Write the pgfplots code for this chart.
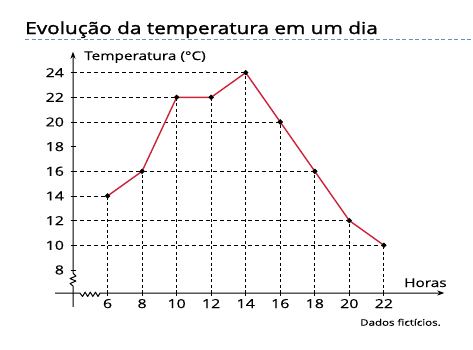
\documentclass[border=0pt]{standalone}
\usepackage{fontspec}
\setmainfont{Open Sans}[FakeStretch=1.28, FakeBold=0.4]
\newfontfamily\titlefont{Open Sans}[FakeStretch=1.26, FakeBold=1.6]
\usepackage{pgfplots}
\pgfplotsset{compat=1.18}
\usetikzlibrary{arrows.meta}
\definecolor{redline}{RGB}{204,36,56}
\definecolor{titleblue}{RGB}{95,145,200}

\begin{document}
\begin{tikzpicture}[x=1pt,y=1pt]
\path[use as bounding box, fill=white] (0,0) rectangle (473,349);
\node[anchor=base west, inner sep=0, font=\titlefont\fontsize{16.5}{19}\selectfont] at (25,315) {Evolução da temperatura em um dia};
\draw[titleblue, line width=1pt, dash pattern=on 4pt off 2.5pt] (25,310) -- (473,310);
\node[anchor=base west, inner sep=0, font=\fontsize{12}{14}\selectfont] at (84,289) {Temperatura (°C)};
\node[anchor=base west, inner sep=0, font=\fontsize{12}{14}\selectfont] at (404,62) {Horas};
\node[anchor=base west, inner sep=0, font=\fontsize{9}{11}\selectfont] at (360,23.3) {Dados fictícios.};

\begin{axis}[
  at={(73pt,56pt)}, anchor=south west,
  x=17.27pt, y=12.33pt,
  xmin=4, xmax=25.5, ymin=6.13, ymax=25.7,
  axis lines=left, axis line style={draw=none},
  xtick={6,8,...,22}, ytick={8,10,...,24},
  tick align=center, major tick length=5pt,
  tick style={black, line width=0.8pt},
  ticklabel style={font=\fontsize{12.5}{14}\selectfont},
  yticklabel style={xshift=-3pt},
  /pgf/number format/assume math mode=true,
  clip mode=individual,
]
\addplot[xcomb, black, dash pattern=on 4pt off 3pt, line width=0.9pt] coordinates {
(6,14) (8,16) (10,22) (12,22) (14,24) (16,20) (18,16) (20,12) (22,10)};
\addplot[ycomb, black, dash pattern=on 3pt off 2.5pt, line width=0.9pt] coordinates {
(6,14) (8,16) (10,22) (12,22) (14,24) (16,20) (18,16) (20,12) (22,10)};
\addplot[redline, line width=1.4pt, mark=*, mark size=1.8pt, mark options={black, fill=black}] coordinates {
(6,14) (8,16) (10,22) (12,22) (14,24) (16,20) (18,16) (20,12) (22,10)};
\draw[line width=1pt, line join=round, -{Stealth[length=7pt,width=5pt]}]
  (axis cs:4,5.0) -- (axis cs:4,6.7) -- (axis cs:3.83,6.9) -- (axis cs:4.17,7.1) -- (axis cs:3.83,7.3) -- (axis cs:4.17,7.5) -- (axis cs:4,7.75) -- (axis cs:4,25.7);
\draw[line width=1pt, line join=round, -{Stealth[length=7pt,width=5pt]}]
  (axis cs:2.96,6.13) -- (axis cs:4.4,6.13) -- (axis cs:4.55,5.85) -- (axis cs:4.7,6.2) -- (axis cs:4.85,5.85) -- (axis cs:5.0,6.2) -- (axis cs:5.15,5.85) -- (axis cs:5.3,6.2) -- (axis cs:5.45,5.85) -- (axis cs:5.56,6.13) -- (axis cs:25.5,6.13);
\end{axis}
\end{tikzpicture}
\end{document}
